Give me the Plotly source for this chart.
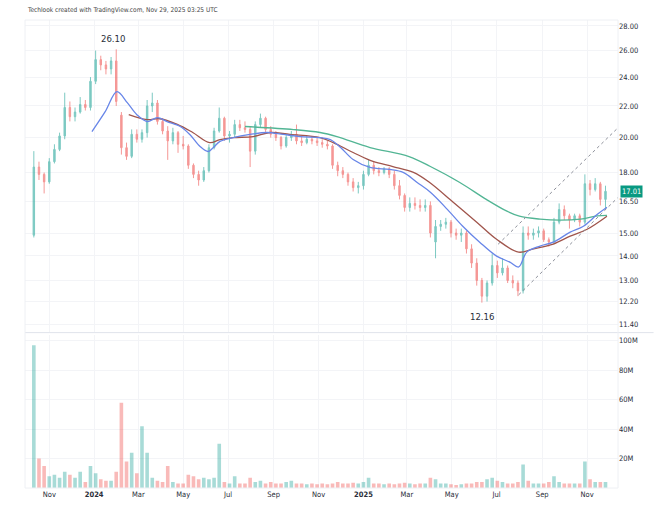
import math
import pandas as pd
import plotly.graph_objects as go

# ---------------- data (weekly bars) ----------------
week_dates = pd.date_range("2023-10-11", periods=112, freq="7D")

opens = [14.9, 18.3, 17.9, 17.5, 18.6, 19.3, 20.1, 21.9, 21.3, 21.6, 22.1, 21.9,
         23.7, 25.3, 24.9, 24.6, 25.2, 21.4, 19.4, 18.9, 20.2, 19.9, 20.3, 22.0,
         22.2, 21.0, 20.4, 19.8, 20.3, 19.6, 19.5, 18.4, 17.9, 17.6, 18.1, 19.4,
         20.4, 21.2, 20.1, 20.2, 20.8, 20.6, 20.5, 19.2, 20.8, 21.2, 20.5, 20.2,
         20.0, 19.5, 20.0, 20.2, 19.8, 19.7, 19.9, 19.8, 19.7, 19.6, 19.5, 18.4,
         18.1, 17.9, 17.5, 17.2, 17.3, 17.9, 18.4, 18.1, 18.0, 18.2, 17.9, 17.3,
         16.8, 16.2, 16.4, 16.3, 16.2, 16.3, 14.6, 15.3, 15.4, 15.5, 15.0, 14.9,
         15.0, 14.3, 13.7, 13.0, 12.4, 12.9, 13.6, 13.3, 13.5, 13.0, 12.9, 12.6,
         15.0, 14.9, 15.0, 15.1, 14.7, 14.6, 15.5, 16.1, 15.8, 15.6, 15.8, 15.5,
         17.4, 17.1, 17.4, 16.6]
highs = [19.2, 18.6, 18.0, 18.8, 19.6, 20.3, 22.9, 22.3, 21.9, 22.6, 22.4, 24.0,
         26.0, 25.6, 25.2, 25.5, 26.1, 21.6, 19.7, 20.5, 20.5, 20.5, 22.4, 22.9,
         22.4, 21.2, 20.7, 20.6, 20.4, 20.1, 19.6, 18.5, 18.1, 18.3, 19.6, 20.6,
         21.9, 21.3, 20.4, 21.1, 21.1, 21.0, 20.7, 21.0, 21.5, 21.3, 20.7, 20.4,
         20.1, 20.2, 20.4, 20.8, 20.1, 20.1, 20.1, 20.0, 19.9, 19.8, 19.6, 18.6,
         18.3, 18.0, 17.7, 17.5, 18.1, 18.7, 18.6, 18.3, 18.3, 18.3, 18.1, 17.6,
         16.9, 16.7, 16.7, 16.6, 16.6, 16.5, 15.6, 15.6, 15.7, 15.6, 15.2, 15.2,
         15.1, 14.5, 13.9, 13.1, 13.0, 14.1, 13.8, 13.9, 13.6, 13.2, 13.0, 15.3,
         15.3, 15.2, 15.3, 15.2, 14.8, 15.7, 16.4, 16.3, 15.9, 15.9, 15.9, 17.9,
         17.6, 17.7, 17.5, 17.3]
lows = [14.8, 17.6, 16.9, 17.4, 18.5, 19.2, 19.9, 21.0, 21.0, 21.5, 21.7, 21.7,
        23.5, 24.5, 24.2, 24.2, 22.0, 19.0, 18.7, 18.8, 19.7, 19.7, 20.0, 21.6,
        20.8, 20.2, 18.7, 19.6, 19.1, 19.3, 18.2, 17.7, 17.3, 17.5, 18.0, 19.3,
        20.3, 19.8, 19.7, 20.0, 20.4, 20.3, 18.3, 19.0, 20.6, 20.3, 20.0, 19.8,
        19.3, 19.4, 19.8, 19.6, 19.5, 19.6, 19.6, 19.5, 19.4, 19.3, 18.2, 17.8,
        17.7, 17.3, 17.0, 16.9, 17.1, 17.8, 17.9, 17.8, 17.9, 17.7, 17.1, 16.6,
        16.0, 16.0, 16.1, 16.0, 16.0, 14.8, 13.9, 15.1, 15.2, 14.8, 14.7, 14.6,
        14.1, 13.5, 12.8, 12.16, 12.2, 12.8, 13.1, 13.2, 12.9, 12.7, 12.4, 12.5,
        14.7, 14.7, 14.8, 14.6, 14.4, 14.5, 15.4, 15.6, 15.2, 15.5, 15.3, 15.4,
        16.8, 17.0, 16.3, 16.1]
closes = [18.3, 17.9, 17.5, 18.6, 19.3, 20.1, 21.9, 21.3, 21.6, 22.1, 21.9, 23.7,
          25.3, 24.9, 24.6, 25.2, 22.3, 19.4, 18.9, 20.2, 19.9, 20.3, 22.0, 22.2,
          21.0, 20.4, 19.8, 20.3, 19.6, 19.5, 18.4, 17.9, 17.6, 18.1, 19.4, 20.4,
          21.2, 20.1, 20.2, 20.8, 20.6, 20.5, 19.2, 20.8, 21.2, 20.5, 20.2, 20.0,
          19.5, 20.0, 20.2, 19.8, 19.7, 19.9, 19.8, 19.7, 19.6, 19.5, 18.4, 18.1,
          17.9, 17.5, 17.2, 17.3, 17.9, 18.4, 18.1, 18.0, 18.2, 17.9, 17.3, 16.8,
          16.2, 16.4, 16.3, 16.2, 16.3, 15.0, 15.3, 15.4, 15.5, 15.0, 14.9, 15.0,
          14.3, 13.7, 13.0, 12.4, 12.9, 13.6, 13.3, 13.5, 13.0, 12.9, 12.6, 15.0,
          14.9, 15.0, 15.1, 14.7, 14.6, 15.5, 16.1, 15.8, 15.6, 15.8, 15.5, 17.4,
          17.1, 17.4, 16.6, 17.01]
volumes_m = [97, 20, 15, 8, 9, 7, 11, 9, 7, 11, 4, 15,
             10, 6, 5, 5, 11, 58, 18, 24, 10, 42, 24, 7,
             5, 4, 15, 4, 3, 3, 9, 8, 6, 7, 6, 7,
             30, 4, 3, 8, 3, 3, 7, 4, 5, 3, 4, 3,
             3, 4, 5, 3, 3, 2.5, 3, 2.5, 3, 2.5, 3, 4,
             3, 3, 3.5, 3, 4, 7, 3, 3, 2.5, 3, 2.5, 3,
             3.5, 3, 2.5, 3, 3, 7, 6, 3, 3, 2.5, 2, 2.5,
             3, 3, 4, 4, 6, 7, 5, 4, 3, 3, 4, 16,
             5, 3, 3, 3, 4, 8, 4, 3, 3, 3, 3, 18,
             6, 4, 4, 4]

# moving averages
ma_blue_dates = ["2023-12-29", "2024-01-16", "2024-02-01", "2024-02-15", "2024-02-28",
                 "2024-03-13", "2024-03-27", "2024-04-09", "2024-04-27", "2024-05-10",
                 "2024-05-24", "2024-06-04", "2024-06-11", "2024-06-20", "2024-07-08",
                 "2024-07-31", "2024-08-23", "2024-09-14", "2024-10-07", "2024-11-03",
                 "2024-11-17", "2024-12-01", "2024-12-18", "2025-01-10", "2025-02-06",
                 "2025-02-24", "2025-03-15", "2025-04-02", "2025-04-25", "2025-05-16",
                 "2025-06-08", "2025-07-01", "2025-07-19", "2025-07-31", "2025-08-11",
                 "2025-08-29", "2025-09-16", "2025-10-09", "2025-10-27", "2025-11-15",
                 "2025-11-28"]
ma_blue_vals = [20.37, 21.63, 22.97, 22.22, 21.43, 20.99, 21.24, 20.99, 20.68, 20.19,
                19.47, 19.18, 19.41, 19.77, 20.00, 20.19, 20.31, 20.19, 20.06, 20.00,
                19.88, 19.41, 18.72, 18.28, 18.17, 18.01, 17.47, 16.96, 16.11, 15.31,
                14.59, 13.99, 13.74, 13.54, 14.16, 14.42, 14.59, 15.04, 15.31, 15.87,
                16.21]
ma_red_dates = ["2024-02-17", "2024-03-13", "2024-03-30", "2024-04-23", "2024-05-14",
                "2024-06-06", "2024-06-20", "2024-07-08", "2024-08-04", "2024-08-27",
                "2024-09-23", "2024-11-03", "2024-11-21", "2024-12-18", "2025-01-14",
                "2025-02-10", "2025-03-10", "2025-04-01", "2025-05-03", "2025-06-04",
                "2025-07-01", "2025-07-31", "2025-08-19", "2025-09-16", "2025-10-09",
                "2025-11-01", "2025-11-28"]
ma_red_vals = [21.43, 21.11, 21.17, 20.81, 20.31, 19.70, 19.88, 20.00, 20.06, 20.31,
               20.19, 20.00, 19.70, 19.12, 18.61, 18.33, 18.01, 17.47, 16.46, 15.50,
               14.72, 14.16, 14.29, 14.51, 14.86, 15.17, 15.78]
ma_green_dates = ["2024-07-24", "2024-09-28", "2024-11-03", "2024-11-26", "2025-01-10",
                  "2025-03-04", "2025-04-02", "2025-05-12", "2025-06-17", "2025-07-15",
                  "2025-08-01", "2025-08-29", "2025-09-25", "2025-10-23", "2025-11-15",
                  "2025-11-28"]
ma_green_vals = [20.68, 20.49, 20.31, 20.06, 19.41, 18.89, 18.33, 17.47, 16.60, 16.02,
                 15.78, 15.64, 15.59, 15.64, 15.80, 15.82]

# drawn trend channel
channel_upper_dates = ["2025-07-03", "2025-12-13"]
channel_upper_vals = [14.5, 20.6]
channel_lower_dates = ["2025-07-31", "2025-12-13"]
channel_lower_vals = [12.45, 16.7]

price_ticks = [11.4, 12.2, 13, 14, 15, 16.5, 18, 20, 22, 24, 26, 28]
vol_ticks_m = [20, 40, 60, 80, 100]
x_tick_dates = ["2023-11-01", "2024-01-01", "2024-03-01", "2024-05-01", "2024-07-01",
                "2024-09-01", "2024-11-01", "2025-01-01", "2025-03-01", "2025-05-01",
                "2025-07-01", "2025-09-01", "2025-11-01"]
x_tick_text = ["Nov", "<b>2024</b>", "Mar", "May", "Jul", "Sep", "Nov", "<b>2025</b>",
               "Mar", "May", "Jul", "Sep", "Nov"]
title_text = "Techlook created with TradingView.com, Nov 29, 2025 03:25 UTC"

# ---------------- styling ----------------
UP = "#26a69a"
DOWN = "#ef5350"
FONT = "DejaVu Sans Condensed, DejaVu Sans, sans-serif"
GRID = "#f3f4f7"
TXT = "#2a2e39"

fig = go.Figure()
fig.add_trace(go.Candlestick(
    x=week_dates, open=opens, high=highs, low=lows, close=closes,
    increasing=dict(line=dict(color=UP, width=1), fillcolor=UP),
    decreasing=dict(line=dict(color=DOWN, width=1), fillcolor=DOWN),
    whiskerwidth=0, opacity=0.6, showlegend=False, xaxis="x", yaxis="y",
    hoverinfo="skip"))

for d, v, c in [(ma_green_dates, ma_green_vals, "#52b594"),
                (ma_red_dates, ma_red_vals, "#a0554c"),
                (ma_blue_dates, ma_blue_vals, "#6886e8")]:
    fig.add_trace(go.Scatter(x=d, y=v, mode="lines", line=dict(color=c, width=1.3, shape="spline"),
                             showlegend=False, xaxis="x", yaxis="y", hoverinfo="skip"))

for d, v in [(channel_upper_dates, channel_upper_vals), (channel_lower_dates, channel_lower_vals)]:
    fig.add_trace(go.Scatter(x=d, y=v, mode="lines", line=dict(color="#8c8f99", width=1, dash="dot"),
                             showlegend=False, xaxis="x", yaxis="y", hoverinfo="skip"))

vol_colors = ["rgba(38,166,154,0.4)" if c >= o else "rgba(239,83,80,0.4)"
              for o, c in zip(opens, closes)]
fig.add_trace(go.Bar(x=week_dates, y=[v * 1e6 for v in volumes_m], marker=dict(color=vol_colors, line=dict(width=0)),
                     showlegend=False, xaxis="x", yaxis="y2", hoverinfo="skip"))

i_hi = max(range(len(highs)), key=lambda i: highs[i])
i_lo = min(range(len(lows)), key=lambda i: lows[i])

annotations = [
    dict(text=title_text, xref="paper", yref="paper", x=0, y=1, xanchor="left", yanchor="bottom",
         yshift=4, showarrow=False, font=dict(size=6.5, color="#444", family=FONT)),
    dict(text=f"{highs[i_hi]:.2f}", x=week_dates[i_hi], y=math.log10(highs[i_hi]), xref="x", yref="y",
         xanchor="center", yanchor="bottom", yshift=3, xshift=-3, showarrow=False,
         font=dict(size=9.5, color=TXT, family=FONT)),
    dict(text=f"{lows[i_lo]:.2f}", x=week_dates[i_lo], y=math.log10(lows[i_lo]), xref="x", yref="y",
         xanchor="center", yanchor="top", yshift=-6, showarrow=False,
         font=dict(size=9.5, color=TXT, family=FONT)),
    dict(text=f"{closes[-1]:.2f}", xref="paper", yref="y", x=1, y=math.log10(closes[-1]),
         xanchor="left", yanchor="middle", xshift=2, showarrow=False, bgcolor="#089981",
         borderpad=1, font=dict(size=7.5, color="white", family=FONT)),
]

shapes = [
    dict(type="line", xref="paper", yref="paper", x0=0, x1=1.06, y0=0.332, y1=0.332,
         line=dict(color="#e0e3eb", width=1)),
    dict(type="rect", xref="paper", yref="paper", x0=0, x1=1, y0=0, y1=1,
         line=dict(color="#eef0f4", width=1)),
]

fig.update_layout(
    width=654, height=511,
    margin=dict(l=25, r=36, t=20, b=21),
    paper_bgcolor="white", plot_bgcolor="white",
    font=dict(family=FONT, size=7.5, color=TXT),
    boxgap=0.6, bargap=0.3,
    showlegend=False,
    annotations=annotations, shapes=shapes,
    xaxis=dict(type="date", range=["2023-09-29", "2025-12-13"], anchor="y2", domain=[0, 1],
               tickvals=x_tick_dates, ticktext=x_tick_text, tickangle=0,
               showgrid=True, gridcolor=GRID, gridwidth=1, zeroline=False, showline=False,
               ticks="", tickfont=dict(size=7.5, color=TXT, family=FONT), rangeslider=dict(visible=False)),
    yaxis=dict(type="log", domain=[0.334, 1], range=[math.log10(11.14), math.log10(28.51)],
               side="right", anchor="x", tickvals=price_ticks,
               ticktext=[f"{t:.2f}" for t in price_ticks],
               showgrid=True, gridcolor=GRID, zeroline=False, showline=False, ticks="",
               tickfont=dict(size=7.5, color=TXT, family=FONT)),
    yaxis2=dict(domain=[0, 0.326], range=[0, 103.7e6], side="right", anchor="x",
                tickvals=[t * 1e6 for t in vol_ticks_m], ticktext=[f"{t}M" for t in vol_ticks_m],
                showgrid=True, gridcolor=GRID, zeroline=False, showline=False, ticks="",
                tickfont=dict(size=7.5, color=TXT, family=FONT)),
)

fig.write_html("out.html", config={"displayModeBar": False},
               post_script="document.body.style.margin='0';document.body.style.padding='0';")
